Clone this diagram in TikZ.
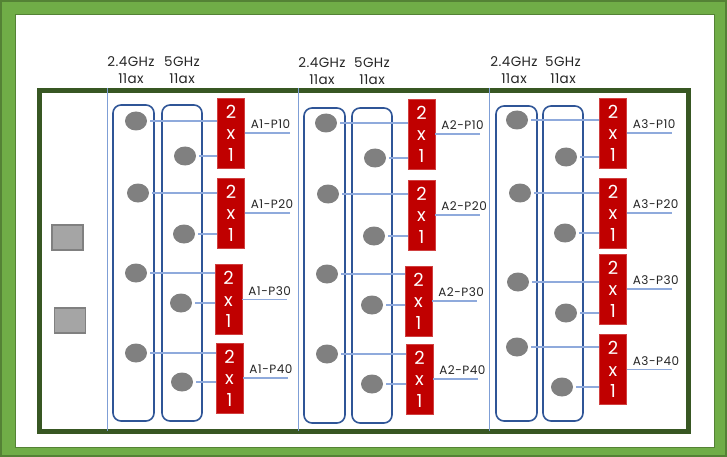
\documentclass[tikz,border=0pt]{standalone}
\usepackage{fontspec}
\setmainfont{Poppins}
\usetikzlibrary{shapes.geometric}

\definecolor{frameGreen}{HTML}{70AD47}
\definecolor{frameDark}{HTML}{548235}
\definecolor{boardGreen}{HTML}{385723}
\definecolor{ovalBlue}{HTML}{2F5597}
\definecolor{wireBlue}{HTML}{8FAADC}
\definecolor{lineBlue}{HTML}{7F9FD6}
\definecolor{muxRed}{HTML}{C00000}
\definecolor{dotGray}{HTML}{808080}
\definecolor{boxGray}{HTML}{A5A5A5}
\definecolor{textGray}{HTML}{262626}

\tikzset{
  antenna/.style={ellipse, fill=dotGray, minimum width=22pt, minimum height=19pt, inner sep=0pt},
  mux/.style={fill=muxRed, draw=muxRed!75!white, text=white, minimum width=27pt, minimum height=70pt,
    inner sep=0pt, align=center, font=\fontsize{18}{21.5}\selectfont},
  wire/.style={draw=wireBlue, line width=1.2pt},
  port/.style={font=\fontsize{12}{13}\selectfont\addfontfeature{LetterSpace=4}, text=textGray,
    inner sep=0pt, anchor=south west},
  band/.style={font=\fontsize{13.5}{17}\selectfont\addfontfeature{LetterSpace=3}, text=textGray,
    align=center, inner sep=0pt},
  radio/.style={draw=ovalBlue, line width=1.6pt, rounded corners=8pt},
  ctlbox/.style={fill=boxGray, draw=dotGray, line width=1.5pt, minimum width=31pt, minimum height=25pt, inner sep=0pt},
}

\begin{document}
\begin{tikzpicture}[x=1pt, y=-1pt]
  \useasboundingbox (0,0) rectangle (727,457);

  % Outer frame
  \fill[frameGreen] (0,0) rectangle (727,457);
  \draw[frameDark, line width=2pt] (1,1) rectangle (726,456);
  \fill[white] (15,15) rectangle (714,447);
  \draw[frameDark, line width=1pt] (15,15) rectangle (714,447);

  % Board outline
  \draw[boardGreen, line width=5pt, fill=white] (39.5,91) rectangle (688,431);

  % Two square parts on the left
  \node[ctlbox] (ctl1) at (67.5,237.5) {};
  \node[ctlbox] (ctl2) at (70,320.5) {};

  % Column dividers
  \foreach \x in {107,298,489}
    \draw[lineBlue, line width=1pt] (\x,88) -- (\x,431);

  % Radio columns and their band headers
  \foreach \c/\xa/\xb/\top/\bot/\hy in {1/113/162/105/421/70, 2/304/352/108/423/71, 3/496/543/106/421/70}{
    \draw[radio] (\xa,\top) rectangle (\xa+41,\bot);
    \draw[radio] (\xb,\top) rectangle (\xb+40,\bot);
    \node[band] (lo\c head) at (\xa+18,\hy) {2.4GHz\\11ax};
    \node[band] (hi\c head) at (\xb+20,\hy) {5GHz\\11ax};
  }

  % Antenna pairs feeding each 2x1 combiner
  \foreach \c/\r/\xl/\yl/\xr/\yr/\xm/\ym in {
      1/1/136/121/185/156/231/133, 1/2/138/193/184/234/231/213,
      1/3/136/273/181/303/228.5/299.5, 1/4/136/353/182/382/229.5/378,
      2/1/326/123/375/158/421.5/134, 2/2/328/194/374/236/421.5/215,
      2/3/327/274/372/305/418.5/301, 2/4/327/354/372/384/419.5/379,
      3/1/517/120/566/157/613/133, 3/2/520/193/565/233/613/213,
      3/3/518/282/566/313/613/289, 3/4/517/347/562/387/613/369.5}{
    \node[antenna] (lo\c\r) at (\xl,\yl) {};
    \node[antenna] (hi\c\r) at (\xr,\yr) {};
    \node[mux] (mux\c\r) at (\xm,\ym) {2\\x\\1};
    \draw[wire, shorten <=3pt] (lo\c\r) -- (lo\c\r -| mux\c\r.west);
    \draw[wire, shorten <=3pt] (hi\c\r) -- (hi\c\r -| mux\c\r.west);
    \coordinate (end\c\r) at ([xshift=45pt]mux\c\r.east);
    \draw[wire] (mux\c\r.east) -- (end\c\r);
    \node[port] (port\c\r) at ([xshift=6pt,yshift=4pt]mux\c\r.east) {A\c-P\r0};
  }
\end{tikzpicture}
\end{document}
